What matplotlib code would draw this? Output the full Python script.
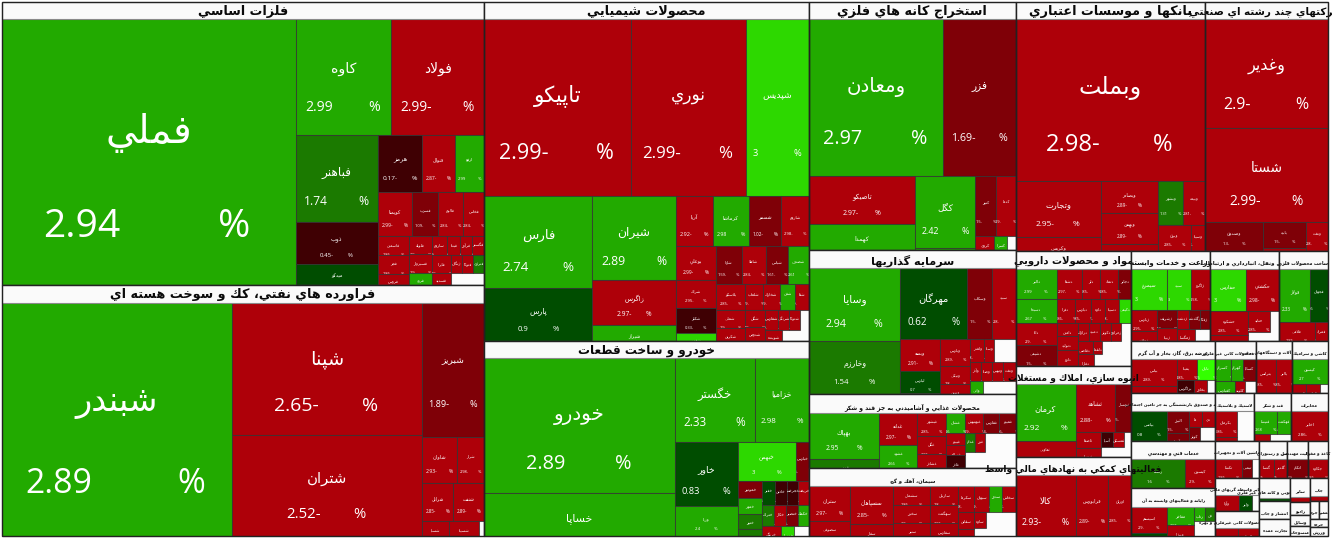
import math
import matplotlib
matplotlib.use("Agg")
import matplotlib.pyplot as plt
from matplotlib.patches import Rectangle

# ---------- tree helpers (values are market-size weights) ----------
def H(*kids): return ("H", kids)
def V(*kids): return ("V", kids)
def c(name, pct, value): return ("cell", name, pct, value)
def blank(value): return ("blank", value)
def sector(title, title_value, *content):
    return ("sector", title, title_value, content[0] if content else None)

# ---------- data ----------
METALS = sector("فلزات اساسي", 8177, H(
    c("فملي", 2.94, 77645),
    V(H(c("كاوه", 2.99, 11020), c("فولاد", -2.99, 10788)),
      H(V(c("فباهنر", 1.74, 7134), c("ذوب", -0.45, 3444), c("ميدكو", 0.5, 1640)),
        V(H(c("هرمز", -0.17, 2508), c("فنوال", -2.87, 1881), c("ارفع", 2.99, 1653)),
          H(c("كويمنا", -2.99, 1496), c("فسرب", -1.09, 1144), c("فالوم", -2.84, 1100), c("فخاس", -2.84, 924)),
          H(V(c("فاسمين", -2.86, 589), c("فجر", -2.86, 558), c("فروس", -2.8, 341)),
            V(c("فلوله", -2.9, 414), c("فسبزوار", -2.9, 414), c("فرود", 2.6, 276)),
            V(H(c("ساروم", -2.9, 285), c("فپنتا", -2.9, 247), c("فرآور", -2.9, 228), c("فگستر", -2.9, 228)),
              H(V(c("فايرا", -2.9, 323), c("فسديد", -2.9, 228)),
                V(H(c("زنگان", -2.9, 187), c("فتوكا", -2.9, 187), c("فنرژي", 1.5, 187)), blank(396)))))))))
)

OIL = sector("فراورده هاي نفتي، كك و سوخت هسته اي", 8658, H(
    c("شبندر", 2.89, 53357),
    V(c("شپنا", -2.65, 25080), c("شتران", -2.52, 19190)),
    V(c("شبريز", -1.89, 8308),
      H(c("شاوان", -2.93, 1610), c("شراز", -2.98, 1242)),
      H(c("شرانل", -2.85, 1178), c("شنفت", -2.89, 1178)),
      H(c("شسپا", -2.9, 405), c("شسينا", -2.95, 450), blank(75))))
)

CHEM = sector("محصولات شيميايي", 5508, V(
    H(c("تاپيكو", -2.99, 25842), c("نوري", -2.99, 20355), c("شپديس", 3, 11151)),
    H(V(c("فارس", 2.74, 9828), c("پارس", 0.9, 5724)),
      V(c("شيران", 2.89, 6889), c("زاگرس", -2.97, 3735), c("شيراز", 2.6, 1328)),
      V(H(c("آريا", -2.92, 1850), c("كرماشا", 2.98, 1800), c("شسمر", -1.02, 1600), c("شاروم", -2.98, 1400)),
        H(V(c("بوعلي", -2.99, 1320), c("شراك", -2.95, 1120), c("شكلر", -0.33, 1000), c("شغدير", 3, 320)),
          V(H(c("شاوا", -1.59, 962), c("شاملا", -2.84, 888), c("شپاس", -1.61, 814), c("شصدف", 2.61, 777)),
            H(c("پلاسكو", -2.85, 754), c("شلعاب", -2.9, 468), c("شخارك", -2.9, 442), c("شفن", 2.5, 390), c("شفا", -2.9, 364)),
            H(V(c("شملي", -2.9, 522), c("شكربن", -2.9, 377)),
              V(c("شگل", -2.9, 340), c("شدوص", -2.9, 280)),
              V(H(c("شفارس", -2.9, 260), c("شرنگي", -2.9, 220), c("شتوكا", -2.9, 220), blank(180)),
                H(c("شوينده", -2.9, 187), blank(297)))))))))
)

AUTO = sector("خودرو و ساخت قطعات", 5508, H(
    V(c("خودرو", 2.89, 25650), c("خساپا", 2.99, 8170)),
    V(H(c("خگستر", 2.33, 6720), c("خزاميا", 2.98, 4536)),
      H(V(c("خاور", 0.83, 4032), c("ورنا", 2.4, 1890)),
        V(H(c("خبهمن", 3, 2262), c("خپارس", -1.5, 507)),
          H(V(c("خموتور", -1.5, 408), c("خمهر", 2.5, 384), c("ختور", 1.5, 360), c("خشرق", 1.5, 168)),
            V(H(c("خفنر", 0.5, 312), c("خاذين", -0.8, 288), c("خچرخش", -0.6, 264), c("خريخت", -2.5, 264)),
              H(c("ختراك", 1.6, 252), c("خكار", -2.7, 252), c("خنصير", -1.5, 252), c("خكمك", 2.4, 231)),
              H(c("خرينگ", -2.8, 190), c("خوساز", 3, 130), blank(150)))))))
))

MINING = sector("استخراج كانه هاي فلزي", 3502, V(
    H(c("ومعادن", 2.97, 21038), c("فزر", -1.69, 11304)),
    H(V(c("تاصيكو", -2.97, 5088), c("كهمدا", 2.6, 2756)),
      V(c("كگل", 2.42, 4320), c("كچاد", 2.5, 120)),
      V(H(c("كنور", -1.5, 1260), c("كدما", -2.9, 1140)),
        H(c("كروي", -2.9, 266), c("كسرا", 2.5, 182), blank(112)))))
)

INVEST = sector("سرمايه گذاريها", 3708, H(
    V(c("وسايا", 2.94, 6552), c("وخارزم", 1.54, 4823)),
    V(H(c("مهرگان", 0.62, 4690), c("وسكاب", -1.5, 1750), c("سپيد", -2.8, 1610)),
      H(V(c("وبسه", -2.91, 1280), c("لپارس", 0.7, 880), c("وسبحان", 2.5, 40)),
        V(c("وپارس", -2.89, 810), c("ونيكي", -2.8, 540), c("ونوين", -2.8, 300)),
        V(H(c("ولغدر", -2.8, 322), c("وسنا", -2.8, 230), blank(483)),
          H(c("وآذر", -2.8, 209), c("وصنا", -2.8, 209), c("وتوس", -2.8, 209), c("ونفت", -2.8, 228)),
          H(c("واتي", 2.6, 169), blank(416))))))
)

FOOD = sector("محصولات غذايي و آشاميدني به جز قند و شكر", 3914, H(
    V(c("بهپاك", 2.95, 3220), c("قويس", 1.6, 630)),
    V(c("غدانه", -2.97, 1216), c("غشهد", 2.66, 874)),
    V(c("غبشهر", -2.85, 667), c("غگل", -2.86, 522), c("غشاذر", -2.8, 406)),
    H(V(c("غشان", 2.6, 380), c("غپينو", -2.8, 228), c("غسالم", -2.8, 190), c("غاذر", -0.5, 247)),
      V(H(c("غبهنوش", -2.9, 360), c("غفارس", -1.4, 320), c("غمينو", -1.6, 320)),
        H(c("غدام", 1.5, 190), c("غزر", -2.9, 190), blank(570)),
        blank(800))))
)

CEMENT = sector("سيمان، آهك و گچ", 3708, H(
    V(c("ستران", -2.97, 1435), c("سصوفي", -2.8, 615)),
    V(c("سسپاهان", -2.85, 1634), c("سفار", -2.86, 516)),
    V(c("سشمال", -2.86, 703), c("سخزر", -2.8, 666), c("سنير", -2.8, 481)),
    V(c("ساربيل", -2.8, 532), c("سهگمت", -2.86, 504), c("سفارس", -2.8, 364)),
    H(V(H(c("سكرما", -2.8, 416), c("سبهان", -2.9, 390), c("سدور", 2.6, 338), c("سخاش", -2.8, 338)),
        H(V(c("سقاين", -2.8, 272), c("سغرب", -2.8, 112)),
          V(c("ساوه", -2.8, 192), blank(96)),
          blank(696)))))
)

BANK = sector("بانكها و موسسات اعتباري", 3213, V(
    c("وبملت", -2.98, 30429),
    H(V(c("وتجارت", -2.95, 4760), c("وكريس", -2.9, 1190)),
      V(c("وبصادر", -2.89, 1824), c("وبهمن", -2.89, 1767), c("وپاسار", -2.9, 399)),
      V(H(c("وبشهر", 1.31, 1100), c("وبيمه", -2.81, 968)),
        H(c("وبرق", -2.85, 858), c("وسينا", -2.8, 364)))))
)

MULTI = sector("شركتهاي چند رشته اي صنعتي", 2091, V(
    c("وغدير", -2.9, 13407),
    c("شستا", -2.99, 11439),
    H(c("وصندوق", -1.3, 1682),
      V(c("پاپيه", -1.5, 1118), c("وپترو", -2.9, 129)),
      c("ونفت", -2.8, 638)))
)

PHARMA = sector("مواد و محصولات دارويي", 2088, H(
    V(c("دالبر", 2.99, 1230), c("دسبحا", 2.67, 984), c("دانا", -2.9, 902), c("دشيمي", -1.5, 861)),
    V(H(c("دشفا", -2.97, 750), c("دلر", -2.85, 570), c("دتماد", -2.85, 540), c("دجابر", -1.3, 390)),
      H(c("دفرا", -2.86, 432), c("دپارس", -2.85, 384), c("داوه", -2.8, 360), c("دسينا", -2.8, 336), c("دكيمي", 3, 288)),
      H(V(c("دامين", -2.8, 273), c("دتوليد", -2.8, 294), c("دارو", -2.8, 336)),
        V(H(c("درازك", -2.8, 198), c("دعبيد", -2.8, 216), c("دكوثر", -2.8, 198), c("دزهراوي", -2.8, 180), blank(180)),
          H(c("دقاضي", -2.8, 195), c("دلقما", -2.8, 130), blank(377)),
          H(c("دفارا", -2.8, 192), blank(456))))))
)

BUILD = sector("انبوه سازي، املاك و مستغلات", 2088, H(
    V(c("كرمان", 2.92, 3360), c("ثعاوني", -2.9, 960)),
    V(H(c("ثشاهد", -2.88, 1880), c("ثبهساز", -1.5, 752)),
      H(V(c("ثاصفا", -2.8, 416), c("ثنوسا", -2.8, 234)),
        V(H(c("آسيا", -0.5, 180), c("ثمسكن", -2.8, 165), blank(105)), blank(300)))))
)

FINAID = sector("فعاليتهاي كمكي به نهادهاي مالي واسط", 2088, H(
    c("كالا", -2.93, 3660), c("فرابورس", -2.89, 2013), c("اوراق", -2.85, 1403))
)

FARM = sector("زراعت و خدمات وابسته", 1404, V(
    H(c("سيمرغ", 3, 1435), c("سپيد", 3, 984), c("زاگرو", -2.58, 779)),
    H(V(c("زپارس", -2.95, 525), c("زملارد", -2.9, 250)),
      V(c("زشريف", -1.3, 360), c("زبينا", -2.9, 260)),
      V(H(c("زدشت", -2.9, 228), c("زگلدشت", -1.2, 209), c("زفكا", -1.5, 190)),
        H(c("زمگسا", -2.9, 216), blank(180)))))
)

TRANSPORT = sector("حمل ونقل، انبارداري و ارتباطات", 1242, V(
    H(c("حفارس", 3, 1512), c("حكشتي", -2.98, 1386)),
    H(V(c("حشكوه", -2.85, 912), c("حآسا", -2.8, 228)),
      V(H(c("حتايد", -2.85, 462), blank(189)), blank(279))))
)

METALGOODS = sector("ساخت محصولات فلزي", 882, V(
    H(c("فولاژ", 2.33, 1643), c("فجهان", 0.6, 954)),
    H(c("فلامي", -2.85, 684), c("فمراد", -2.8, 247)))
)

POWER = sector("عرضه برق، گاز، بخار و آب گرم", 1494, H(
    V(c("بپاس", -2.89, 1215), c("بكهنوج", -2.8, 315)),
    V(H(c("بمپنا", -2.85, 420), c("تابان", 4.5, 378)),
      H(c("بزاگرس", -0.6, 221), c("بخاور", -2.8, 169), blank(104))))
)

NONMETAL = sector("ساخت محصولات كاني غير فلزي", 738, V(
    H(c("كسرام", 2.8, 352), c("كهرام", 2.8, 264), c("كساپا", -1.5, 286)),
    H(c("كفپارس", 2.6, 240), c("كلوند", -2.8, 120), blank(132)))
)

ELECTRIC = sector("ماشين آلات و دستگاههاي برقي", 648, H(
    c("بترانس", -2.85, 680), c("بالبر", -2.85, 544))
)

CERAMIC = sector("كاشي و سراميك", 648, V(
    c("كيسون", 2.7, 900), H(c("كسعدي", -2.8, 126), c("كبافق", -2.8, 126), blank(72)))
)

INSURE = sector("بيمه و صندوق بازنشستگي به جز تامين اجتماعي", 1494, H(
    c("بياتس", 0.8, 1050),
    V(c("البرز", -1.5, 484), c("آسيا", -1.5, 176)),
    V(H(c("ما", -2.8, 208), c("دي", -2.8, 208)), H(c("كوثر", -1.5, 154), blank(210))))
)

RUBBER = sector("لاستيك و پلاستيك", 702, H(
    V(c("پكرمان", -2.86, 572), c("پلاست", -2.8, 88)), blank(510))
)

SUGAR = sector("قند و شكر", 666, V(
    H(c("قنيشا", 2.68, 529), c("قهكمت", 2.6, 322)),
    H(c("قپيرا", -2.8, 112), blank(147)))
)

TELECOM = sector("مخابرات", 666, c("اخابر", -2.86, 1110))

ENGINEER = sector("خدمات فني و مهندسي", 1494, H(
    c("رهنما", 1.6, 1537), c("كيسون", -2.9, 870))
)

COMPUTER = sector("رايانه و فعاليتهاي وابسته به آن", 1577, H(
    V(c("اسيستم", -2.9, 910), c("سپ", 0.7, 105)),
    V(c("مفاخر", 2.96, 486), c("ميرزا", -2.8, 297)),
    V(H(c("رتاپ", 2.6, 154), c("فن", 1.7, 140)), blank(315)))
)

MACHINE = sector("ماشين آلات و تجهيزات", 792, H(
    c("تكشا", -2.86, 513), c("تپمپي", -1.4, 190), blank(133))
)

BROKER = sector("ساير واسطه گريهاي مالي", 748, H(
    c("وآوا", -2.9, 384), c("وليز", 0.7, 208), blank(112))
)

LEASING = sector("ساير محصولات كانى غيرفلزي و بهره", 748, H(
    c("كنيرو", -2.8, 184), c("كترام", -2.8, 168))
)

TOUR = sector("هتل و رستوران", 504, H(
    c("گنسا", -2.85, 285), c("گلدير", -2.85, 247))
)
AGENT = sector("فعاليت مهندسي", 378, c("اتكام", -1.9, 399))
PAPER = sector("كاغذ و مقوا", 360, c("چكاوه", -2.86, 380))

SMALL_A = sector("محصولات چوبي و كانه هاي غير فلزي", 620, c("كغدير", 0.7, 93))
SMALL_B = sector("انتشار و چاپ", 558)
SMALL_C = sector("تجارت عمده", 527)
SMALL_D = sector("ساير", 360, c("نشر", -2.8, 100))
SMALL_E = sector("راديو", 260)
SMALL_F = sector("وسايل", 200)
SMALL_G = sector("منسوجات", 200)
SMALL_H = sector("چاپ", 324, c("چاپ", -2.8, 90))
SMALL_I = sector("چرم", 162)
SMALL_J = sector("تعمير", 162)
SMALL_K = sector("خرده", 144)
SMALL_L = sector("ورزش", 162)

ROOT = H(
    V(METALS, OIL),
    V(CHEM, AUTO),
    V(MINING, INVEST, FOOD, CEMENT),
    V(H(BANK, MULTI),
      H(V(PHARMA, BUILD, FINAID),
        V(H(FARM, TRANSPORT, METALGOODS),
          H(POWER, NONMETAL, ELECTRIC, CERAMIC),
          H(INSURE, RUBBER, SUGAR, TELECOM),
          H(V(ENGINEER, COMPUTER),
            V(MACHINE, BROKER, LEASING),
            V(H(TOUR, AGENT, PAPER),
              H(V(SMALL_A, SMALL_B, SMALL_C),
                V(SMALL_D, SMALL_E, SMALL_F, SMALL_G),
                V(SMALL_H, H(SMALL_I, SMALL_J), SMALL_K, SMALL_L))))))),
)

# ---------- Persian shaping (matplotlib draws glyphs one after another) ----------
def _four(start):
    return tuple(chr(start + i) for i in range(4))
def _two(start):
    return (chr(start), chr(start + 1))
FORMS = {"ب": _four(0xFE8F), "ت": _four(0xFE95), "ث": _four(0xFE99), "ج": _four(0xFE9D),
         "ح": _four(0xFEA1), "خ": _four(0xFEA5), "س": _four(0xFEB1), "ش": _four(0xFEB5),
         "ص": _four(0xFEB9), "ض": _four(0xFEBD), "ط": _four(0xFEC1), "ظ": _four(0xFEC5),
         "ع": _four(0xFEC9), "غ": _four(0xFECD), "ف": _four(0xFED1), "ق": _four(0xFED5),
         "ك": _four(0xFED9), "ل": _four(0xFEDD), "م": _four(0xFEE1), "ن": _four(0xFEE5),
         "ه": _four(0xFEE9), "ي": _four(0xFEF1), "ئ": _four(0xFE89), "پ": _four(0xFB56),
         "چ": _four(0xFB7A), "گ": _four(0xFB92), "ک": _four(0xFB8E), "ی": _four(0xFBFC),
         "ا": _two(0xFE8D), "آ": _two(0xFE81), "أ": _two(0xFE83), "إ": _two(0xFE87),
         "ؤ": _two(0xFE85), "د": _two(0xFEA9), "ذ": _two(0xFEAB), "ر": _two(0xFEAD),
         "ز": _two(0xFEAF), "ژ": _two(0xFB8A), "و": _two(0xFEED), "ة": _two(0xFE93),
         "ى": _two(0xFEEF)}

def shape(text):
    out = []
    n = len(text)
    i = 0
    joins_prev = False
    while i < n:
        ch = text[i]
        f = FORMS.get(ch)
        if f is None:
            out.append(ch)
            joins_prev = False
            i += 1
            continue
        nxt = text[i + 1] if i + 1 < n else ""
        if ch == "ل" and nxt in ("ا", "آ"):
            base = 0xFEFB if nxt == "ا" else 0xFEF5
            out.append(chr(base + (1 if joins_prev else 0)))
            joins_prev = False
            i += 2
            continue
        dual = len(f) == 4
        joins_next = dual and nxt in FORMS
        if dual:
            glyph = f[3] if joins_prev and joins_next else f[1] if joins_prev else f[2] if joins_next else f[0]
        else:
            glyph = f[1] if joins_prev else f[0]
        out.append(glyph)
        joins_prev = joins_next
        i += 1
    return "".join(reversed(out))

# ---------- styling ----------
def color(p):
    if p <= -2: return "#AE0009"
    if p <= -1: return "#7F0007"
    if p < 0: return "#3F0003"
    if p < 1: return "#004D00"
    if p < 2: return "#1B7A00"
    if p < 3: return "#22AA00"
    if p <= 3: return "#2DD800"
    return "#33FF00"

def pct_text(p):
    s = f"{abs(p):g}"
    return s + "-" if p < 0 else s

# title font sizes in pixels; any sector not listed uses the small default
TITLE_PX = {METALS[1]: 12.7, OIL[1]: 12.7, CHEM[1]: 12.7, MINING[1]: 12.7, BANK[1]: 12.7,
            AUTO[1]: 12.0, INVEST[1]: 11.3, MULTI[1]: 10.4, PHARMA[1]: 10.0, BUILD[1]: 9.0,
            FINAID[1]: 9.0, FARM[1]: 7.0, FOOD[1]: 6.0, TRANSPORT[1]: 5.5, CEMENT[1]: 5.2,
            POWER[1]: 4.6, METALGOODS[1]: 4.5, ENGINEER[1]: 4.5}
TITLE_DEFAULT_PX = 4.1

# ---------- layout ----------
def weight(n):
    k = n[0]
    if k in ("H", "V"): return sum(weight(x) for x in n[1])
    if k == "cell": return n[3]
    if k == "blank": return n[1]
    return n[2] + (weight(n[3]) if n[3] is not None else 0)

fig = plt.figure(figsize=(13.32, 5.39), dpi=100, facecolor="white")
ax = fig.add_axes([0, 0, 1, 1])
ax.set_xlim(0, 1332)
ax.set_ylim(539, 0)
ax.axis("off")

CELL_EDGE = (0.2, 0.2, 0.2, 0.75)
order = [20]

def draw_cell(n, x, y, w, h):
    _, name, p, _ = n
    r = Rectangle((x, y), w, h, facecolor=color(p), edgecolor=CELL_EDGE, linewidth=0.75, zorder=2)
    ax.add_patch(r)
    em = max(4.0, min(39.0, 0.147 * min(w, h)))
    em = max(em, min(0.06 * w, 11.0))
    fs = em * 0.72
    ny = y + max(0.43 * h, 2.3 * em)
    py = ny + max(0.33 * h, 2.4 * em)
    cx = x + w / 2
    items = [(cx, ny, shape(name), "DejaVu Sans", "center"),
             (cx - 2.7 * em, py, pct_text(p), "Open Sans", "left"),
             (cx + 2.2 * em, py, "%", "Open Sans", "center")]
    for tx, ty, s, fam, ha in items:
        t = ax.text(tx, ty, s, color="white", fontsize=fs, family=fam,
                    ha=ha, va="center", zorder=3, clip_on=True)
        t.set_clip_path(r)

def draw(n, x, y, w, h):
    k = n[0]
    if k in ("H", "V"):
        total = weight(n)
        pos = 0.0
        for kid in n[1]:
            f = weight(kid) / total
            if k == "H":
                draw(kid, x + pos * w, y, f * w, h)
            else:
                draw(kid, x, y + pos * h, w, f * h)
            pos += f
    elif k == "cell":
        draw_cell(n, x, y, w, h)
    elif k == "sector":
        total = weight(n)
        th = h * n[2] / total
        ax.add_patch(Rectangle((x, y), w, h, facecolor="#FCFCFC", edgecolor="none", zorder=1))
        if n[3] is not None:
            draw(n[3], x, y + th, w, h - th)
        order[0] += 1
        z = order[0]
        ax.add_patch(Rectangle((x, y), w, th, facecolor="#FAFAFA", edgecolor="#8A8A8A", linewidth=0.8, zorder=z))
        fpx = TITLE_PX.get(n[1], TITLE_DEFAULT_PX)
        frac = 0.55 if fpx >= 10 else 0.68
        ax.text(x + w / 2, y + frac * th, shape(n[1]), color="#0A0A0A", fontsize=fpx * 0.72,
                family="DejaVu Sans", fontweight="bold", ha="center", va="center",
                zorder=z + 0.5)
        ax.add_patch(Rectangle((x, y), w, h, facecolor="none", edgecolor="#222222", linewidth=1.0, zorder=z + 0.6))

draw(ROOT, 2, 2, 1326, 534)
fig.savefig("out.png", dpi=100, facecolor="white")
